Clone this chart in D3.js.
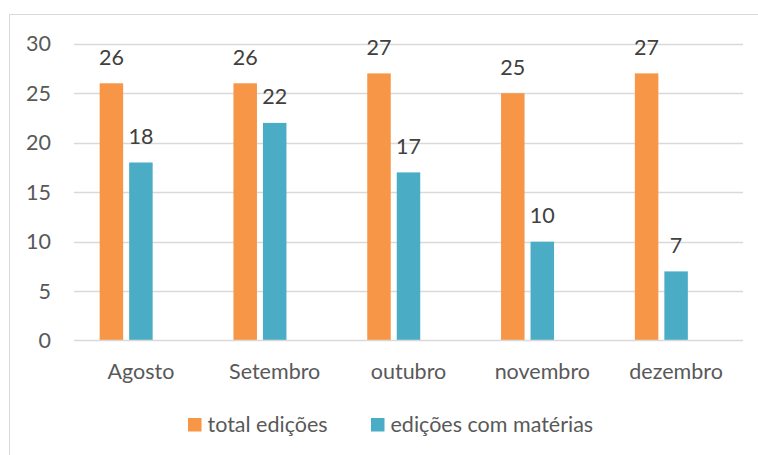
<!DOCTYPE html>
<html><head><meta charset="utf-8">
<script src="https://cdn.jsdelivr.net/npm/d3@7"></script>
<style>body{margin:0;background:#fff;} svg{display:block;}</style>
</head><body>
<svg id="c" width="758" height="455"></svg>
<script>
const categories = ["Agosto","Setembro","outubro","novembro","dezembro"];
const totalEdicoes = [26,26,27,25,27];
const edicoesComMaterias = [18,22,17,10,7];
const seriesNames = ["total edições","edições com matérias"];
const yTicks = [0,5,10,15,20,25,30];

const colors = ["#F79646","#4BACC6"];
const font = "Lato, 'Open Sans', sans-serif";
const fs = 21.5;
const txt = "#595959";
const svg = d3.select("#c");

svg.append("rect").attr("x",9.5).attr("y",14.5).attr("width",760).attr("height",460)
  .attr("fill","#fff").attr("stroke","#D9D9D9").attr("stroke-width",1);

const x = d3.scaleBand().domain(categories).range([74,743]).paddingInner(0).paddingOuter(0);
const xs = d3.scaleBand().domain(["a","b","c"]).range([0,x.bandwidth()]).paddingInner(0.2034).paddingOuter(0.8695);
const y = d3.scaleLinear().domain([0,30]).range([340.7,43.7]);

// gridlines
svg.append("g").selectAll("line").data(yTicks.filter(d=>d>0)).join("line")
  .attr("x1",74).attr("x2",743).attr("y1",d=>Math.round(y(d))+0.5).attr("y2",d=>Math.round(y(d))+0.5)
  .attr("stroke","#D9D9D9").attr("stroke-width",1.3);

// y tick labels
svg.append("g").selectAll("text").data(yTicks).join("text")
  .attr("x",51).attr("y",d=>y(d)).attr("dy","0.36em").attr("text-anchor","end")
  .attr("font-family",font).attr("font-size",fs).attr("fill",txt).text(d=>d);

const series = [totalEdicoes, edicoesComMaterias];
const keys = ["a","b"];
series.forEach((vals,si)=>{
  const g = svg.append("g");
  g.selectAll("rect").data(vals).join("rect")
    .attr("x",(d,i)=>x(categories[i])+xs(keys[si]))
    .attr("y",d=>y(d)).attr("width",xs.bandwidth()).attr("height",d=>y(0)-y(d))
    .attr("fill",colors[si]);
  g.selectAll("text").data(vals).join("text")
    .attr("x",(d,i)=>x(categories[i])+xs(keys[si])+xs.bandwidth()/2)
    .attr("y",d=>y(d)-18.5).attr("text-anchor","middle")
    .attr("font-family",font).attr("font-size",fs).attr("fill","#404040").text(d=>d);
});

// x axis line
svg.append("line").attr("x1",74).attr("x2",743).attr("y1",340.5).attr("y2",340.5)
  .attr("stroke","#D9D9D9").attr("stroke-width",1.3);

// x labels
svg.append("g").selectAll("text").data(categories).join("text")
  .attr("x",d=>x(d)+x.bandwidth()/2).attr("y",379).attr("text-anchor","middle")
  .attr("font-family",font).attr("font-size",fs).attr("fill",txt).text(d=>d);

// legend
const legX = [188,371];
seriesNames.forEach((n,i)=>{
  svg.append("rect").attr("x",legX[i]).attr("y",418).attr("width",13.5).attr("height",13.5).attr("fill",colors[i]);
  svg.append("text").attr("x",legX[i]+19.5).attr("y",432).attr("font-family",font).attr("font-size",fs)
    .attr("fill",txt).text(n);
});
</script>
</body></html>
